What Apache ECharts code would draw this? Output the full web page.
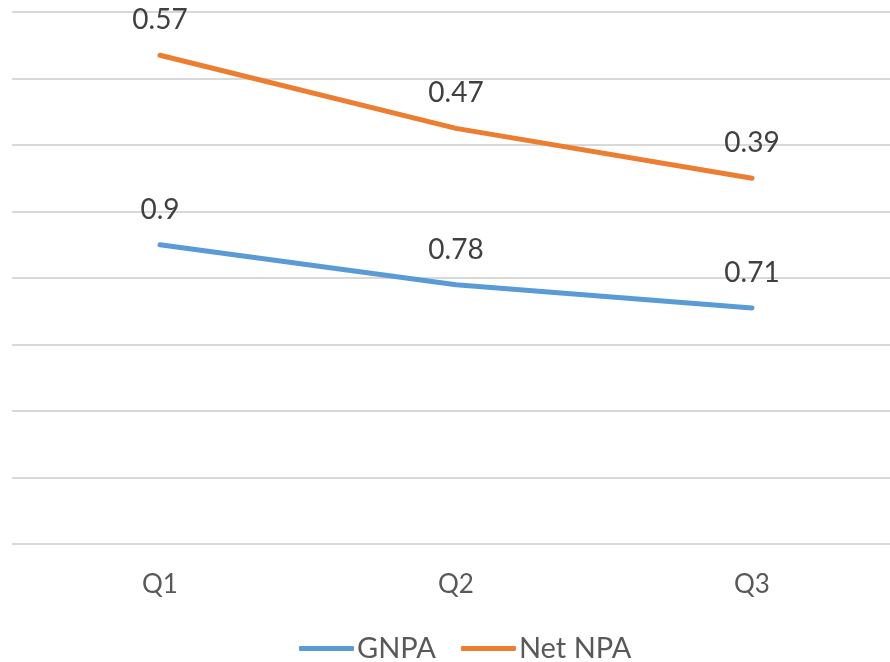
<!DOCTYPE html>
<html><head><meta charset="utf-8">
<script src="https://cdn.jsdelivr.net/npm/echarts@6/dist/echarts.min.js"></script>
<style>html,body{margin:0;padding:0;background:#fff}#c{width:890px;height:662px}</style>
</head><body><div id="c"></div>
<script>
const categories = ['Q1', 'Q2', 'Q3'];
const gnpa = [0.9, 0.78, 0.71];
const netNpa = [0.57, 0.47, 0.39];
const seriesNames = ['GNPA', 'Net NPA'];

const chart = echarts.init(document.getElementById('c'));
const font = 'Lato, "Open Sans", sans-serif';
const lbl = {show: true, position: 'top', distance: 21, fontSize: 28, color: '#404040', fontFamily: font};
chart.setOption({
  animation: false,
  grid: {left: 12, top: 12, width: 888, height: 532, outerBoundsMode: 'none', containLabel: false},
  legend: {
    top: 629, left: 294, icon: 'roundRect', itemWidth: 55, itemHeight: 5, itemGap: 25,
    textStyle: {fontSize: 29, color: '#595959', fontFamily: font, padding: [0, 0, 0, -2]},
    data: seriesNames
  },
  xAxis: {
    type: 'category', data: categories, boundaryGap: true,
    axisLine: {show: false}, axisTick: {show: false},
    axisLabel: {fontSize: 26, color: '#595959', fontFamily: font, margin: 28}
  },
  yAxis: {
    type: 'value', min: 0, max: 1.6, interval: 0.2,
    axisLabel: {show: false}, axisLine: {show: false}, axisTick: {show: false},
    splitLine: {lineStyle: {color: '#d9d9d9', width: 2}}
  },
  series: [
    {name: seriesNames[0], type: 'line', stack: 'total', data: gnpa, symbol: 'circle', symbolSize: 0, showSymbol: true,
     lineStyle: {color: '#5B9BD5', width: 5, cap: 'round'}, itemStyle: {color: '#5B9BD5'}, label: lbl},
    {name: seriesNames[1], type: 'line', stack: 'total', data: netNpa, symbol: 'circle', symbolSize: 0, showSymbol: true,
     lineStyle: {color: '#ED7D31', width: 5, cap: 'round'}, itemStyle: {color: '#ED7D31'}, label: lbl}
  ]
});
</script></body></html>
